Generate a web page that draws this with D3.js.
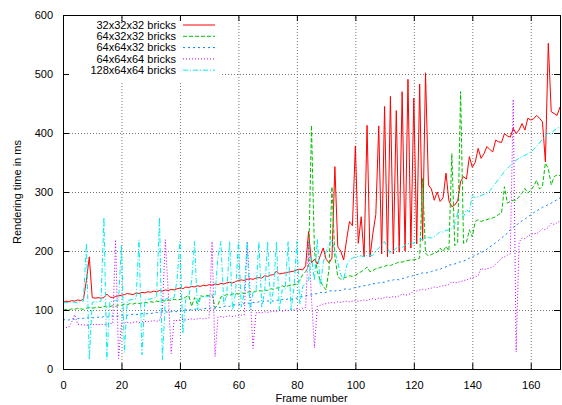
<!DOCTYPE html>
<html>
<head>
<meta charset="utf-8">
<script src="https://cdnjs.cloudflare.com/ajax/libs/d3/7.8.5/d3.min.js"></script>
<style>
body { margin: 0; background: #fff; }
text { font-family: "Liberation Sans", Arial, sans-serif; font-size: 11px; fill: #000; }
</style>
</head>
<body>
<div id="container"></div>
<script>
// frame numbers 0..170
var frames = d3.range(0, 171);

var red32 = [
  113, 115, 114, 116, 115, 117, 116, 118, 150, 190,
  121, 120, 121, 120, 121, 127, 122, 121, 123, 124,
  125, 126, 128, 127, 126, 129, 128, 130, 129, 131,
  130, 132, 131, 133, 132, 134, 133, 135, 134, 136,
  137, 136, 139, 138, 140, 139, 141, 140, 142, 141,
  143, 142, 144, 143, 145, 144, 146, 147, 146, 148,
  150, 151, 150, 152, 153, 152, 154, 155, 154, 158,
  157, 159, 160, 166, 161, 162, 163, 164, 165, 166,
  168, 169, 168, 175, 233, 180, 186, 178, 192, 205,
  186, 180, 188, 343, 207, 200, 185, 219, 250, 243,
  378, 213, 258, 190, 413, 190, 230, 262, 412, 195,
  445, 190, 462, 195, 438, 198, 470, 200, 491, 205,
  459, 212, 483, 218, 502, 312, 305, 286, 300, 284,
  290, 332, 285, 275, 278, 285, 318, 326, 322, 360,
  342, 350, 374, 357, 365, 377, 372, 368, 388, 385,
  384, 399, 395, 393, 408, 399, 405, 416, 405, 425,
  422, 424, 430, 425, 419, 351, 552, 436, 433, 430, 444
];
var green6432 = [
  100, 101, 100, 102, 101, 103, 102, 101, 103, 104,
  103, 104, 105, 104, 106, 105, 106, 107, 106, 108,
  108, 110, 109, 111, 110, 112, 111, 112, 113, 112,
  114, 113, 115, 114, 116, 115, 117, 116, 118, 117,
  118, 119, 122, 125, 106, 121, 110, 124, 123, 125,
  124, 126, 104, 108, 122, 124, 126, 125, 127, 128,
  127, 129, 128, 130, 131, 130, 132, 133, 132, 134,
  133, 136, 135, 137, 138, 141, 139, 141, 142, 143,
  144, 150, 160, 165, 175, 413, 200, 165, 150, 140,
  134, 170, 309, 190, 157, 152, 154, 156, 158, 157,
  159, 162, 165, 168, 173, 165, 167, 170, 171, 173,
  174, 176, 175, 178, 179, 182, 181, 183, 184, 185,
  185, 186, 188, 323, 196, 192, 194, 196, 198, 205,
  199, 208, 200, 365, 209, 215, 470, 213, 215, 236,
  224, 250, 253, 250, 252, 253, 255, 256, 258, 262,
  264, 309, 281, 284, 286, 286, 292, 298, 306, 298,
  303, 310, 320, 305, 310, 349, 340, 312, 326, 329, 328
];
var blue6464 = [
  83, 84, 83, 85, 84, 86, 85, 86, 87, 86,
  87, 87, 88, 87, 89, 88, 89, 90, 89, 90,
  91, 92, 91, 92, 93, 92, 93, 94, 93, 94,
  94, 95, 96, 95, 96, 97, 96, 97, 98, 97,
  100, 99, 100, 101, 100, 101, 102, 101, 102, 103,
  103, 104, 103, 105, 104, 106, 107, 106, 108, 109,
  110, 109, 111, 112, 111, 113, 112, 114, 113, 115,
  115, 116, 115, 117, 116, 118, 117, 119, 118, 120,
  120, 122, 123, 124, 125, 126, 127, 128, 130, 129,
  130, 132, 133, 132, 134, 133, 135, 136, 135, 137,
  138, 139, 140, 141, 142, 143, 145, 144, 146, 147,
  147, 149, 150, 151, 152, 151, 153, 155, 156, 157,
  159, 160, 161, 163, 162, 164, 165, 167, 168, 169,
  172, 173, 176, 177, 178, 180, 182, 183, 185, 188,
  190, 193, 195, 197, 200, 203, 207, 210, 214, 218,
  222, 226, 230, 236, 240, 243, 248, 251, 254, 258,
  261, 265, 268, 271, 274, 276, 279, 281, 284, 287, 290
];
var magenta646464 = [
  69, 70, 71, 80, 92, 76, 75, 75, 74, 75,
  75, 76, 75, 76, 75, 76, 77, 77, 219, 18,
  78, 78, 79, 78, 79, 80, 79, 80, 81, 80,
  81, 82, 81, 82, 100, 219, 130, 26, 83, 82,
  83, 84, 83, 84, 85, 84, 85, 86, 85, 86,
  87, 216, 21, 88, 89, 88, 89, 90, 89, 90,
  91, 91, 92, 216, 130, 35, 95, 96, 95, 97,
  96, 97, 98, 97, 99, 98, 100, 99, 101, 100,
  102, 101, 103, 104, 215, 120, 36, 106, 108, 110,
  111, 112, 113, 112, 114, 113, 114, 115, 114, 115,
  116, 115, 116, 117, 116, 118, 119, 118, 120, 119,
  121, 122, 121, 123, 122, 124, 127, 125, 126, 128,
  133, 132, 134, 135, 134, 136, 137, 139, 138, 140,
  141, 142, 143, 148, 146, 147, 148, 150, 151, 153,
  155, 156, 158, 171, 168, 170, 171, 173, 178, 182,
  188, 190, 193, 195, 457, 29, 215, 222, 221, 225,
  228, 230, 229, 233, 238, 236, 240, 247, 245, 248, 251
];
var cyan1286464 = [
  112, 113, 112, 114, 113, 112, 114, 115, 213, 16,
  113, 114, 113, 115, 257, 16, 114, 115, 116, 117,
  210, 28, 116, 117, 118, 119, 219, 24, 117, 118,
  119, 120, 121, 257, 16, 118, 120, 119, 121, 150,
  216, 60, 118, 122, 150, 216, 100, 121, 123, 122,
  124, 123, 125, 190, 216, 110, 125, 216, 100, 127,
  216, 105, 129, 216, 100, 130, 131, 216, 105, 132,
  216, 110, 133, 216, 100, 134, 135, 216, 100, 137,
  216, 110, 140, 145, 150, 190, 150, 220, 140, 180,
  200, 210, 219, 200, 180, 160, 151, 175, 185, 188,
  190, 191, 192, 190, 193, 192, 193, 200, 205, 210,
  216, 205, 195, 200, 205, 207, 206, 210, 212, 214,
  213, 216, 220, 219, 225, 223, 222, 224, 228, 233,
  232, 235, 236, 238, 245, 265, 262, 258, 270, 266,
  295, 290, 292, 294, 296, 298, 302, 308, 315, 322,
  328, 335, 340, 345, 350, 354, 357, 360, 362, 365,
  368, 372, 378, 383, 390, 395, 400, 398, 405, 408, 410
];

var seriesNames = ["32x32x32 bricks", "64x32x32 bricks", "64x64x32 bricks", "64x64x64 bricks", "128x64x64 bricks"];
var seriesValues = [red32, green6432, blue6464, magenta646464, cyan1286464];
var seriesColors = ["#ff0000", "#00c000", "#0080ff", "#c000ff", "#00eeee"];
var seriesDash = ["none", "4,2", "2,3", "1,2", "5,2,1,2"];

var xTicks = [0, 20, 40, 60, 80, 100, 120, 140, 160];
var yTicks = [0, 100, 200, 300, 400, 500, 600];

var width = 562, height = 405;
var margin = {top: 15, right: 2, bottom: 36, left: 63};

var svg = d3.select("#container").append("svg")
  .attr("width", width)
  .attr("height", height);

var x = d3.scaleLinear().domain([0, 170]).range([margin.left, width - margin.right]);
var y = d3.scaleLinear().domain([0, 600]).range([height - margin.bottom, margin.top]);

// grid
var grid = svg.append("g");
grid.selectAll(".gx").data(xTicks.filter(function(d) { return d > 0; })).enter()
  .append("line")
  .attr("x1", function(d) { return x(d) + 0.5; })
  .attr("x2", function(d) { return x(d) + 0.5; })
  .attr("y1", y(0)).attr("y2", y(600))
  .attr("stroke", "#777").attr("stroke-width", 1).attr("stroke-dasharray", "1,2");
grid.selectAll(".gy").data(yTicks.filter(function(d) { return d > 0 && d < 600; })).enter()
  .append("line")
  .attr("y1", function(d) { return y(d) + 0.5; })
  .attr("y2", function(d) { return y(d) + 0.5; })
  .attr("x1", x(0)).attr("x2", x(170))
  .attr("stroke", "#777").attr("stroke-width", 1).attr("stroke-dasharray", "1,2");

// key area hides the grid
svg.append("rect")
  .attr("x", x(0) + 1).attr("y", y(600) + 6)
  .attr("width", 158).attr("height", 62)
  .attr("fill", "#fff");

// data lines
var line = d3.line()
  .x(function(d, i) { return x(frames[i]); })
  .y(function(d) { return y(d); });

seriesValues.forEach(function(vals, k) {
  svg.append("path")
    .datum(vals)
    .attr("d", line)
    .attr("fill", "none")
    .attr("stroke", seriesColors[k])
    .attr("stroke-width", 1)
    .attr("stroke-dasharray", seriesDash[k]);
});

// axes (inward ticks, mirrored)
var tickLen = 6;
svg.append("g").attr("transform", "translate(0," + y(0) + ")")
  .call(d3.axisBottom(x).tickValues(xTicks).tickSize(-tickLen).tickPadding(tickLen + 6))
  .call(function(g) { g.select(".domain").remove(); });
svg.append("g").attr("transform", "translate(0," + y(600) + ")")
  .call(d3.axisTop(x).tickValues(xTicks).tickSize(-tickLen).tickFormat(""))
  .call(function(g) { g.select(".domain").remove(); });
svg.append("g").attr("transform", "translate(" + x(0) + ",0)")
  .call(d3.axisLeft(y).tickValues(yTicks).tickSize(-tickLen).tickPadding(tickLen + 4))
  .call(function(g) { g.select(".domain").remove(); });
svg.append("g").attr("transform", "translate(" + x(170) + ",0)")
  .call(d3.axisRight(y).tickValues(yTicks).tickSize(-tickLen).tickFormat(""))
  .call(function(g) { g.select(".domain").remove(); });
svg.selectAll(".tick text").style("font-size", "11px").style("font-family", "'Liberation Sans', Arial, sans-serif");
svg.selectAll(".tick line").attr("stroke", "#000");

// border
svg.append("rect")
  .attr("x", x(0) + 0.5).attr("y", y(600) + 0.5)
  .attr("width", x(170) - x(0)).attr("height", y(0) - y(600))
  .attr("fill", "none").attr("stroke", "#000").attr("stroke-width", 1);

// key
var key = svg.append("g");
seriesNames.forEach(function(name, k) {
  var ky = 25 + k * 11.3;
  key.append("text")
    .attr("x", 176).attr("y", ky).attr("dy", "0.35em")
    .attr("text-anchor", "end")
    .text(name);
  key.append("line")
    .attr("x1", 183).attr("x2", 215)
    .attr("y1", ky).attr("y2", ky)
    .attr("stroke", seriesColors[k])
    .attr("stroke-width", 1)
    .attr("stroke-dasharray", seriesDash[k]);
});

// axis titles
svg.append("text")
  .attr("x", (x(0) + x(170)) / 2).attr("y", 402)
  .attr("text-anchor", "middle")
  .text("Frame number");
svg.append("text")
  .attr("transform", "translate(21," + (y(0) + y(600)) / 2 + ") rotate(-90)")
  .attr("text-anchor", "middle")
  .text("Rendering time in ms");
</script>
</body>
</html>
